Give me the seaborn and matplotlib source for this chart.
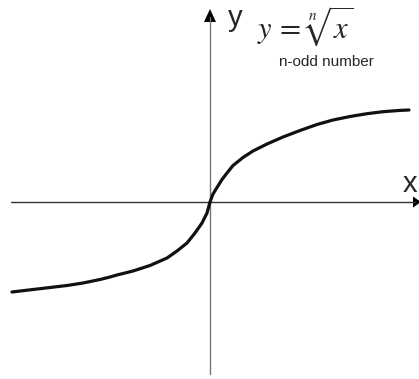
import numpy as np
import pandas as pd
import matplotlib
matplotlib.use("Agg")
import matplotlib.pyplot as plt
import seaborn as sns

# curve points (pixel units, origin at axes crossing)
curve_x = [-198, -177, -160, -143, -127, -110, -100, -93, -77, -60,
           -43, -33, -23, -15, -8, -3, 0, 3, 7, 12,
           17, 23, 33, 43, 57, 73, 90, 107, 123, 140,
           157, 173, 190, 199]
curve_y = [-90, -87.5, -85.5, -83.5, -81, -77.5, -75, -73, -69, -63.5,
           -56, -49, -41, -31, -21, -11, 0, 8, 14.5, 22.5,
           29, 36.5, 44.5, 51, 58, 65, 71.5, 77.5, 82, 85.5,
           88.3, 90.3, 91.6, 92]

formula = r'$y\,=\,\sqrt[n]{x}$'
note = 'n-odd number'
x_name = 'x'
y_name = 'y'

sns.set_style('white')
plt.rcParams['mathtext.fontset'] = 'stix'

df = pd.DataFrame({'x': curve_x, 'y': curve_y})

fig = plt.figure(figsize=(4.19, 3.79), dpi=100)
ax = fig.add_axes([0, 0, 1, 1])
ax.set_xlim(-210, 209)
ax.set_ylim(-177, 202)
ax.axis('off')

# axes lines
ax.plot([-199, 205], [0, 0], color='#333333', lw=1.0)
ax.plot([0, 0], [-172, 185], color='#777777', lw=1.0)
ax.fill([203, 211, 203], [-5.5, 0, 5.5], color='black', lw=0)
ax.fill([-6, 6, 0], [180, 180, 193], color='black', lw=0)

sns.lineplot(data=df, x='x', y='y', color='#111111', lw=2.3, estimator=None, ax=ax)

ax.text(200, 10, x_name, fontsize=21, family='Liberation Sans', ha='center', va='baseline')
ax.text(18, 176, y_name, fontsize=21, family='Liberation Sans', ha='left', va='baseline')
ax.text(47, 164, formula, fontsize=22, ha='left', va='baseline')
ax.text(69, 136, note, fontsize=11, family='Liberation Sans', ha='left', va='baseline')

fig.savefig('out.png', dpi=100)
